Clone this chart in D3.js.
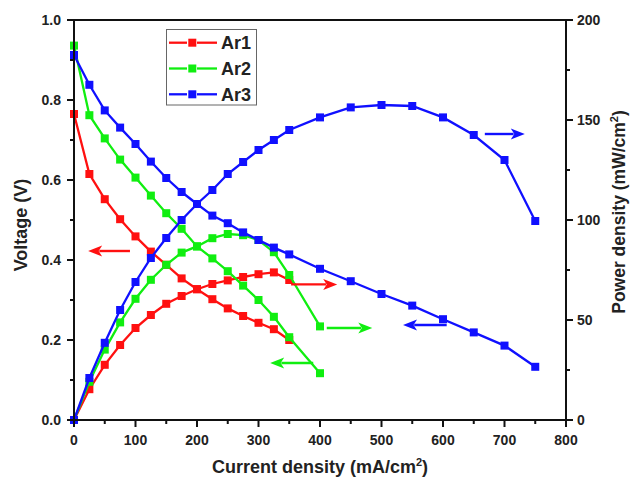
<!DOCTYPE html>
<html><head><meta charset="utf-8">
<script src="https://cdn.jsdelivr.net/npm/d3@7"></script>
<style>html,body{margin:0;padding:0;background:#fff;}svg{display:block;font-family:"Liberation Sans",Arial,sans-serif;}</style>
</head><body>
<svg id="c" width="631" height="484"></svg>
<script>
// ---- data ----
const currentA = [0,25,50,75,100,125,150,175,200,225,250,275,300,325,350];
const currentAr2 = [0,25,50,75,100,125,150,175,200,225,250,275,300,325,350,400];
const currentAr3 = [0,25,50,75,100,125,150,175,200,225,250,275,300,325,350,400,450,500,550,600,650,700,750];

const ar1Voltage = [0.765,0.615,0.552,0.502,0.459,0.421,0.388,0.354,0.327,0.302,0.279,0.260,0.243,0.227,0.200];
const ar1Power   = [0,15.4,27.6,37.5,46,52.5,58.1,62,65.4,68,69.8,71.5,72.9,73.8,70];

const ar2Voltage = [0.936,0.762,0.704,0.651,0.606,0.561,0.517,0.478,0.434,0.404,0.372,0.336,0.300,0.258,0.207,0.117];
const ar2Power   = [0,19.1,35.2,48.8,60.6,70.1,77.6,83.7,86.8,90.9,93,92.4,90,83.9,72.5,46.8];

const ar3Voltage = [0.9125,0.838,0.774,0.731,0.690,0.646,0.605,0.570,0.540,0.511,0.492,0.469,0.450,0.431,0.414,0.378,0.347,0.315,0.286,0.252,0.219,0.186,0.133];
const ar3Power   = [0,21,38.6,55,69,81,91,100,108,115,123,129,135,140,145,151.3,156.3,157.5,157,151.3,142.5,130,99.5];

const seriesNames = ["Ar1","Ar2","Ar3"];
const seriesColors = ["#ff1010","#10ee10","#1010ff"];

const xTicks = [0,100,200,300,400,500,600,700,800];
const yLeftTicks = [0.0,0.2,0.4,0.6,0.8,1.0];
const yRightTicks = [0,50,100,150,200];

// arrows (data coords: current, voltage scale)
const arrowColors = ["#ff1010","#ff1010","#10ee10","#10ee10","#1010ff","#1010ff"];
const arrowFrom = [[91,0.4225],[353,0.339],[411,0.23],[389,0.1425],[606,0.2375],[668,0.715]];
const arrowTo   = [[23,0.4225],[428,0.339],[485,0.23],[319,0.1425],[535,0.2375],[733,0.715]];

// ---- chart ----
const svg = d3.select("#c");
const L=74, R=566, T=20, B=420;
const x = d3.scaleLinear().domain([0,800]).range([L,R]);
const yV = d3.scaleLinear().domain([0,1]).range([B,T]);
const yP = d3.scaleLinear().domain([0,200]).range([B,T]);

const series = [
  {name:seriesNames[0], c:seriesColors[0], xs:currentA, v:ar1Voltage, p:ar1Power},
  {name:seriesNames[1], c:seriesColors[1], xs:currentAr2, v:ar2Voltage, p:ar2Power},
  {name:seriesNames[2], c:seriesColors[2], xs:currentAr3, v:ar3Voltage, p:ar3Power}
];

const g = svg.append("g");
const msz = 8;
series.forEach(s=>{
  const vData = s.xs.map((d,i)=>[d,s.v[i]]);
  const pData = s.xs.map((d,i)=>[d,s.p[i]]);
  const lv = d3.line().x(d=>x(d[0])).y(d=>yV(d[1]));
  const lp = d3.line().x(d=>x(d[0])).y(d=>yP(d[1]));
  g.append("path").attr("d",lv(vData)).attr("fill","none").attr("stroke",s.c).attr("stroke-width",2.3);
  g.append("path").attr("d",lp(pData)).attr("fill","none").attr("stroke",s.c).attr("stroke-width",2.3);
  g.selectAll(null).data(vData).enter().append("rect")
    .attr("x",d=>x(d[0])-msz/2).attr("y",d=>yV(d[1])-msz/2).attr("width",msz).attr("height",msz).attr("fill",s.c);
  g.selectAll(null).data(pData).enter().append("rect")
    .attr("x",d=>x(d[0])-msz/2).attr("y",d=>yP(d[1])-msz/2).attr("width",msz).attr("height",msz).attr("fill",s.c);
});

// arrows
arrowFrom.forEach((f,i)=>{
  const t = arrowTo[i];
  const x1=x(f[0]), y1=yV(f[1]), x2=x(t[0]), y2=yV(t[1]);
  const dir = Math.sign(x2-x1);
  const hl=14, hw=5.5;
  g.append("line").attr("x1",x1).attr("y1",y1).attr("x2",x2-dir*hl*0.8).attr("y2",y2)
    .attr("stroke",arrowColors[i]).attr("stroke-width",2.4);
  g.append("path").attr("d",`M${x2},${y2} L${x2-dir*hl},${y2-hw} L${x2-dir*hl*0.75},${y2} L${x2-dir*hl},${y2+hw} Z`)
    .attr("fill",arrowColors[i]);
});

// axes
const axG = svg.append("g");
axG.append("rect").attr("x",L).attr("y",T).attr("width",R-L).attr("height",B-T)
  .attr("fill","none").attr("stroke","#111").attr("stroke-width",2);

// bottom ticks
d3.range(0,801,50).forEach(v=>{
  const major = v%100===0;
  axG.append("line").attr("x1",x(v)).attr("x2",x(v)).attr("y1",B).attr("y2",B+(major?7:4)).attr("stroke","#111").attr("stroke-width",2);
});
axG.selectAll(null).data(xTicks).enter().append("text")
  .attr("x",d=>x(d)).attr("y",B+25).attr("text-anchor","middle")
  .attr("font-size",14).attr("font-weight","bold").attr("fill","#222").text(d=>d);

// left ticks
d3.range(0,11).forEach(k=>{
  const v=k/10, major=k%2===0;
  axG.append("line").attr("x1",L).attr("x2",L-(major?7:4)).attr("y1",yV(v)).attr("y2",yV(v)).attr("stroke","#111").attr("stroke-width",2);
});
axG.selectAll(null).data(yLeftTicks).enter().append("text")
  .attr("x",L-13).attr("y",d=>yV(d)+5).attr("text-anchor","end")
  .attr("font-size",14).attr("font-weight","bold").attr("fill","#222").text(d=>d3.format(".1f")(d));

// right ticks
d3.range(0,201,25).forEach(v=>{
  const major=v%50===0;
  axG.append("line").attr("x1",R).attr("x2",R+(major?7:4)).attr("y1",yP(v)).attr("y2",yP(v)).attr("stroke","#111").attr("stroke-width",2);
});
axG.selectAll(null).data(yRightTicks).enter().append("text")
  .attr("x",R+11).attr("y",d=>yP(d)+5).attr("text-anchor","start")
  .attr("font-size",14).attr("font-weight","bold").attr("fill","#222").text(d=>d);

// axis titles
const xt = svg.append("text").attr("x",320).attr("y",473).attr("text-anchor","middle")
  .attr("font-size",18).attr("font-weight","bold").attr("fill","#222");
xt.append("tspan").text("Current density (mA/cm");
xt.append("tspan").attr("font-size",11).attr("dy",-7).text("2");
xt.append("tspan").attr("dy",7).text(")");

svg.append("text").attr("transform","translate(27,225) rotate(-90)").attr("text-anchor","middle")
  .attr("font-size",18).attr("font-weight","bold").attr("fill","#222").text("Voltage (V)");

const yt = svg.append("text").attr("transform","translate(625,212) rotate(-90)").attr("text-anchor","middle")
  .attr("font-size",17.5).attr("font-weight","bold").attr("fill","#222");
yt.append("tspan").text("Power density (mW/cm");
yt.append("tspan").attr("font-size",11).attr("dy",-7).text("2");
yt.append("tspan").attr("dy",7).text(")");

// legend
const lg = svg.append("g");
lg.append("rect").attr("x",166.5).attr("y",29.5).attr("width",90).attr("height",75.5)
  .attr("fill","#fff").attr("stroke","#666").attr("stroke-width",1);
const legY = [42.7,68.5,94.3];
series.forEach((s,i)=>{
  lg.append("line").attr("x1",169).attr("x2",187).attr("y1",legY[i]).attr("y2",legY[i]).attr("stroke",s.c).attr("stroke-width",2.3);
  lg.append("line").attr("x1",197).attr("x2",217).attr("y1",legY[i]).attr("y2",legY[i]).attr("stroke",s.c).attr("stroke-width",2.3);
  lg.append("rect").attr("x",192.3-msz/2).attr("y",legY[i]-msz/2).attr("width",msz).attr("height",msz).attr("fill",s.c);
  lg.append("text").attr("x",221).attr("y",legY[i]+6.5).attr("font-size",18).attr("font-weight","bold").attr("fill","#222").text(s.name);
});
</script>
</body></html>
